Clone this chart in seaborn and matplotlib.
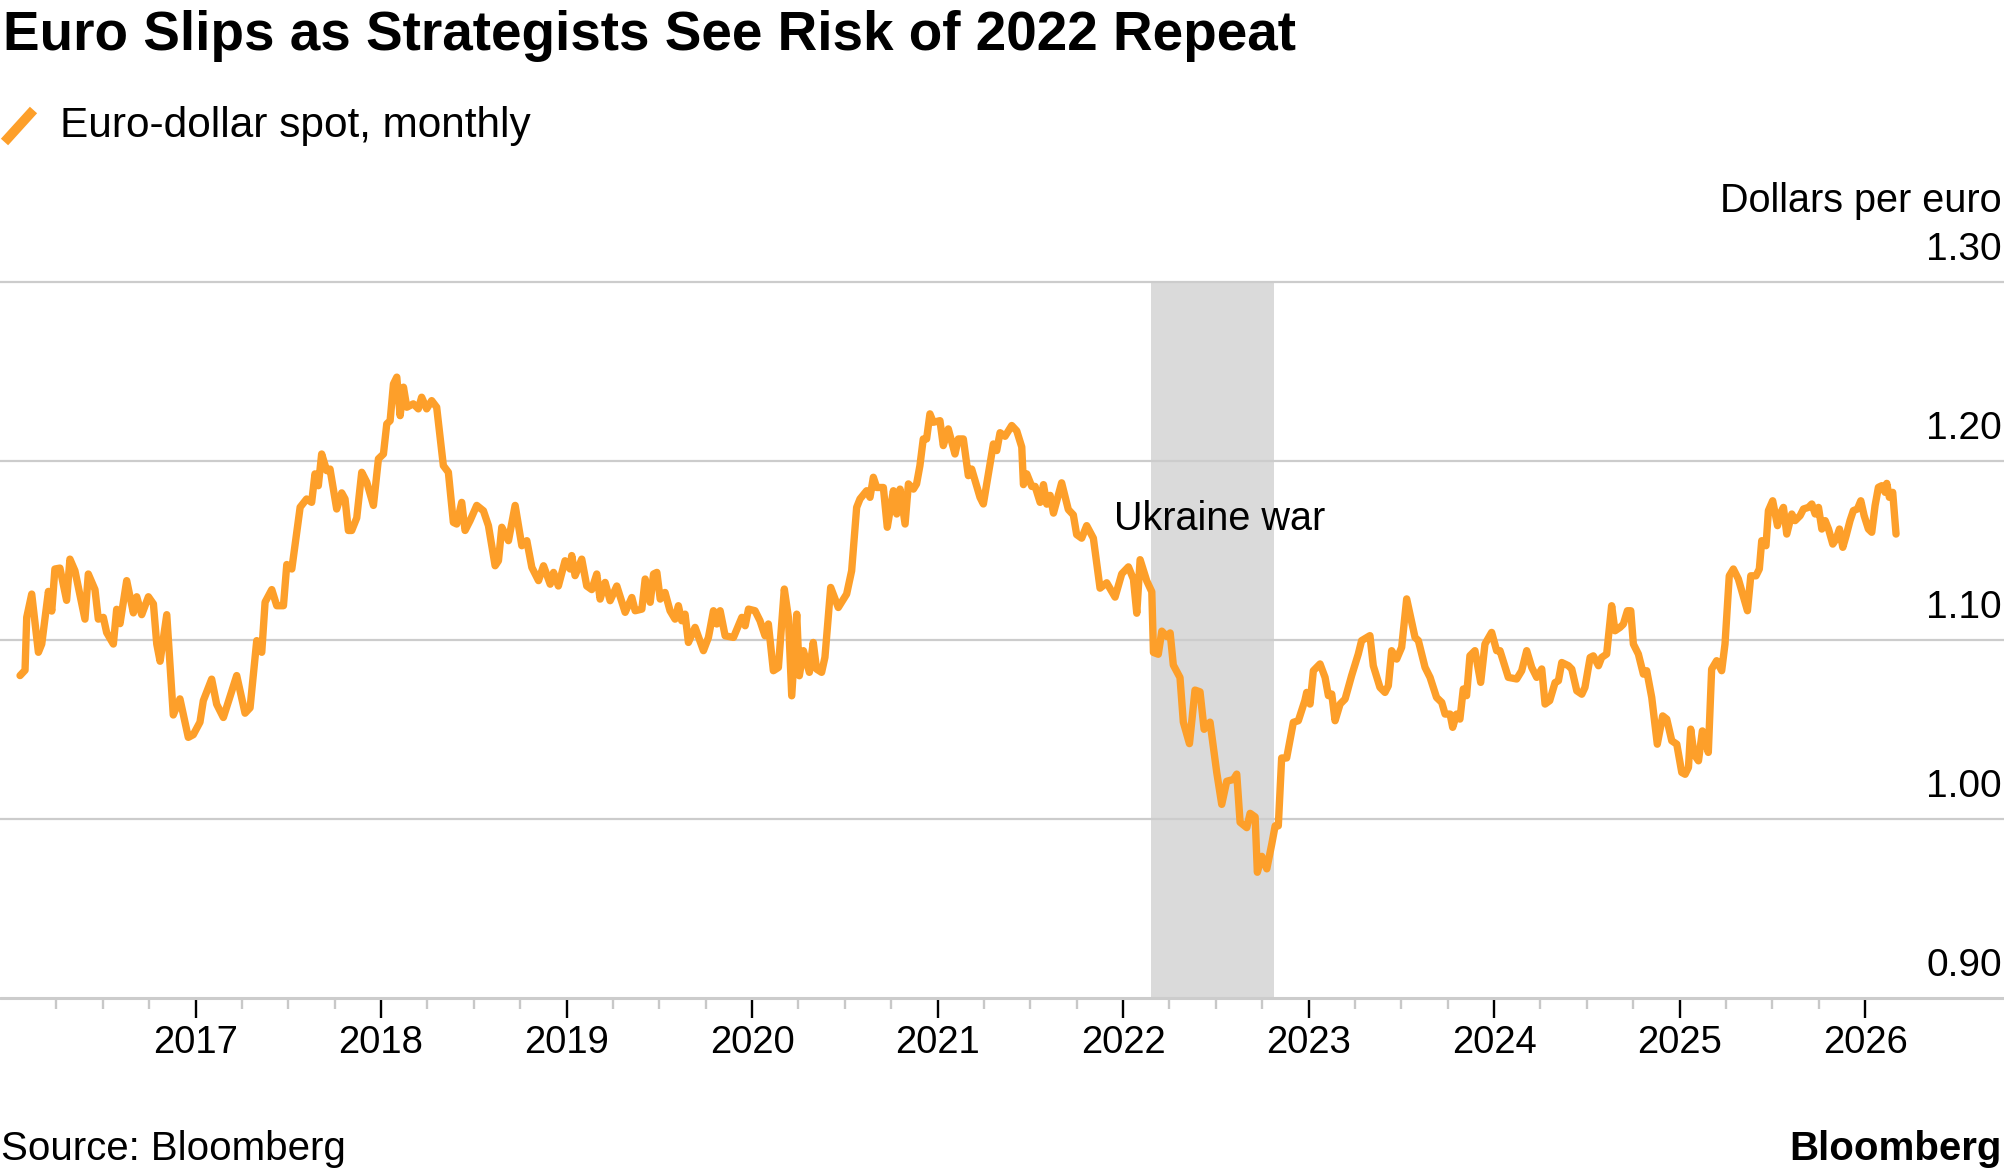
import matplotlib
matplotlib.use('Agg')
import matplotlib.pyplot as plt
import matplotlib.transforms as mtransforms
from matplotlib.lines import Line2D
import seaborn as sns
import pandas as pd

# EUR/USD readings, decimal year -> dollars per euro
dates = [
    2016.054, 2016.081, 2016.090, 2016.117, 2016.153, 2016.171, 2016.207, 2016.225, 2016.242, 2016.269,
    2016.305, 2016.323, 2016.350, 2016.404, 2016.422, 2016.458, 2016.476, 2016.503, 2016.521, 2016.557,
    2016.575, 2016.593, 2016.629, 2016.665, 2016.683, 2016.710, 2016.746, 2016.773, 2016.791, 2016.809,
    2016.845, 2016.880, 2016.916, 2016.961, 2016.988,
    2017.024, 2017.042, 2017.087, 2017.114, 2017.150, 2017.222, 2017.267, 2017.294, 2017.330, 2017.357,
    2017.375, 2017.411, 2017.438, 2017.474, 2017.492, 2017.519, 2017.564, 2017.599, 2017.626, 2017.644,
    2017.662, 2017.680, 2017.707, 2017.725, 2017.761, 2017.788, 2017.806, 2017.824, 2017.842, 2017.869,
    2017.896, 2017.923, 2017.959, 2017.986,
    2018.013, 2018.031, 2018.049, 2018.067, 2018.085, 2018.103, 2018.121, 2018.139, 2018.174, 2018.201,
    2018.219, 2018.246, 2018.273, 2018.300, 2018.336, 2018.363, 2018.390, 2018.408, 2018.435, 2018.453,
    2018.480, 2018.516, 2018.552, 2018.579, 2018.615, 2018.633, 2018.651, 2018.687, 2018.723, 2018.759,
    2018.786, 2018.813, 2018.849, 2018.876, 2018.912, 2018.930, 2018.956, 2018.992,
    2019.019, 2019.028, 2019.046, 2019.082, 2019.109, 2019.136, 2019.163, 2019.181, 2019.208, 2019.235,
    2019.271, 2019.316, 2019.352, 2019.370, 2019.406, 2019.424, 2019.451, 2019.469, 2019.487, 2019.505,
    2019.531, 2019.558, 2019.585, 2019.603, 2019.621, 2019.639, 2019.657, 2019.693, 2019.738, 2019.765,
    2019.792, 2019.810, 2019.828, 2019.855, 2019.900, 2019.945, 2019.963, 2019.981,
    2020.016, 2020.043, 2020.070, 2020.088, 2020.115, 2020.142, 2020.174, 2020.196, 2020.214, 2020.241,
    2020.255, 2020.277, 2020.309, 2020.330, 2020.348, 2020.375, 2020.393, 2020.424, 2020.465, 2020.510,
    2020.537, 2020.564, 2020.582, 2020.618, 2020.636, 2020.654, 2020.672, 2020.708, 2020.729, 2020.762,
    2020.780, 2020.798, 2020.825, 2020.843, 2020.870, 2020.887, 2020.905, 2020.923, 2020.941, 2020.959,
    2020.977,
    2021.013, 2021.031, 2021.058, 2021.094, 2021.112, 2021.139, 2021.166, 2021.184, 2021.229, 2021.247,
    2021.274, 2021.301, 2021.319, 2021.337, 2021.364, 2021.400, 2021.427, 2021.454, 2021.463, 2021.481,
    2021.508, 2021.526, 2021.553, 2021.571, 2021.589, 2021.607, 2021.625, 2021.669, 2021.705, 2021.732,
    2021.750, 2021.777, 2021.804, 2021.840, 2021.876, 2021.912, 2021.957, 2021.993,
    2022.029, 2022.056, 2022.074, 2022.092, 2022.128, 2022.155, 2022.164, 2022.190, 2022.209, 2022.236,
    2022.254, 2022.271, 2022.307, 2022.325, 2022.358, 2022.388, 2022.415, 2022.437, 2022.469, 2022.505,
    2022.532, 2022.559, 2022.595, 2022.613, 2022.631, 2022.667, 2022.685, 2022.712, 2022.724, 2022.748,
    2022.775, 2022.802, 2022.820, 2022.837, 2022.855, 2022.882, 2022.918, 2022.945, 2022.980, 2022.990,
    2023.008, 2023.026, 2023.062, 2023.089, 2023.107, 2023.125, 2023.143, 2023.170, 2023.197, 2023.232,
    2023.268, 2023.286, 2023.331, 2023.349, 2023.385, 2023.412, 2023.430, 2023.448, 2023.475, 2023.502,
    2023.529, 2023.574, 2023.592, 2023.628, 2023.655, 2023.690, 2023.718, 2023.736, 2023.763, 2023.777,
    2023.798, 2023.816, 2023.834, 2023.852, 2023.870, 2023.897, 2023.928, 2023.951, 2023.987,
    2024.014, 2024.032, 2024.077, 2024.122, 2024.149, 2024.176, 2024.203, 2024.230, 2024.257, 2024.275,
    2024.300, 2024.329, 2024.347, 2024.365, 2024.401, 2024.419, 2024.446, 2024.473, 2024.490, 2024.518,
    2024.535, 2024.563, 2024.580, 2024.607, 2024.634, 2024.652, 2024.679, 2024.697, 2024.719, 2024.737,
    2024.751, 2024.778, 2024.805, 2024.823, 2024.850, 2024.880, 2024.909, 2024.931, 2024.958, 2024.985,
    2025.012, 2025.030, 2025.048, 2025.060, 2025.078, 2025.102, 2025.123, 2025.155, 2025.173, 2025.200,
    2025.227, 2025.245, 2025.268, 2025.290, 2025.317, 2025.335, 2025.366, 2025.384, 2025.412, 2025.430,
    2025.443, 2025.466, 2025.479, 2025.502, 2025.528, 2025.542, 2025.560, 2025.578, 2025.605, 2025.623,
    2025.650, 2025.668, 2025.695, 2025.713, 2025.731, 2025.749, 2025.767, 2025.785, 2025.803, 2025.826,
    2025.844, 2025.862, 2025.880, 2025.898, 2025.919, 2025.937, 2025.959, 2025.977, 2025.995,
    2026.018, 2026.036, 2026.054, 2026.072, 2026.090, 2026.108, 2026.117, 2026.131, 2026.149, 2026.167,
]
eurusd = [
    1.080, 1.083, 1.1125, 1.1255, 1.093, 1.0976, 1.127, 1.116, 1.1395, 1.140,
    1.122, 1.145, 1.1385, 1.1115, 1.1367, 1.128, 1.1115, 1.1125, 1.104, 1.0976,
    1.117, 1.109, 1.133, 1.115, 1.124, 1.114, 1.124, 1.120, 1.0976, 1.088,
    1.114, 1.058, 1.067, 1.0455, 1.047,
    1.054, 1.066, 1.078, 1.064, 1.0566, 1.080, 1.059, 1.062, 1.0995, 1.093,
    1.121, 1.128, 1.119, 1.119, 1.142, 1.1395, 1.174, 1.1786, 1.1767, 1.1926,
    1.186, 1.2037, 1.1944, 1.1953, 1.173, 1.182, 1.1786, 1.161, 1.161, 1.168,
    1.1935, 1.188, 1.175, 1.201,
    1.2037, 1.2205, 1.2223, 1.2428, 1.2466, 1.2251, 1.241, 1.2298, 1.2317, 1.2289,
    1.2354, 1.2289, 1.2335, 1.2298, 1.1972, 1.1935, 1.1655, 1.1646, 1.1767, 1.161,
    1.1665, 1.175, 1.172, 1.1637, 1.1413, 1.1441, 1.1628, 1.1553, 1.175, 1.1525,
    1.1553, 1.1404, 1.133, 1.1413, 1.131, 1.1376, 1.130, 1.1441,
    1.1395, 1.147, 1.1358, 1.145, 1.130, 1.128, 1.1367, 1.1227, 1.132, 1.1218,
    1.130, 1.1153, 1.1236, 1.1162, 1.1171, 1.1339, 1.1209, 1.1367, 1.1376, 1.1227,
    1.1264, 1.1162, 1.1115, 1.119, 1.1106, 1.1143, 1.0985, 1.1069, 1.0939, 1.1013,
    1.1162, 1.1088, 1.1162, 1.1022, 1.1013, 1.1125, 1.1078, 1.1171,
    1.1162, 1.1106, 1.1022, 1.1088, 1.0827, 1.0845, 1.1283, 1.1125, 1.0687, 1.1143,
    1.0799, 1.0939, 1.0818, 1.0985, 1.0836, 1.0818, 1.0902, 1.1292, 1.118, 1.1255,
    1.1385, 1.1739, 1.1786, 1.1832, 1.1795, 1.1907, 1.185, 1.185, 1.1628, 1.1832,
    1.1702, 1.1841, 1.1646, 1.187, 1.1841, 1.187, 1.1972, 1.2121, 1.2121, 1.2261,
    1.2214,
    1.2223, 1.2084, 1.2177, 1.2037, 1.2121, 1.2121, 1.1916, 1.1953, 1.1795, 1.1758,
    1.1926, 1.2093, 1.2056, 1.2156, 1.2136, 1.2196, 1.2166, 1.2076, 1.1866, 1.1926,
    1.1856, 1.1856, 1.1767, 1.1866, 1.1757, 1.1806, 1.1707, 1.1876, 1.1727, 1.1697,
    1.1587, 1.1567, 1.1637, 1.1567, 1.1288, 1.1318, 1.1238, 1.1368,
    1.1407, 1.1338, 1.1148, 1.1447, 1.1328, 1.1268, 1.0929, 1.0919, 1.1048, 1.1018,
    1.1038, 1.0859, 1.0789, 1.0540, 1.0420, 1.0719, 1.0709, 1.0500, 1.0540, 1.0260,
    1.0081, 1.0210, 1.0220, 1.0250, 0.9981, 0.9951, 1.0031, 1.0011, 0.9702, 0.9791,
    0.9721, 0.9861, 0.9961, 0.9961, 1.0340, 1.0340, 1.0539, 1.0548, 1.0660, 1.0706,
    1.0641, 1.0827, 1.0865, 1.0790, 1.0688, 1.0697, 1.0548, 1.0641, 1.0669, 1.0799,
    1.0920, 1.0995, 1.1023, 1.0855, 1.0734, 1.0706, 1.0743, 1.0939, 1.0892, 1.0958,
    1.1228, 1.1013, 1.0995, 1.0846, 1.0790, 1.0678, 1.0650, 1.0585, 1.0585, 1.0511,
    1.0585, 1.0557, 1.0725, 1.0688, 1.0911, 1.0939, 1.0762, 1.0976, 1.1041,
    1.0939, 1.0939, 1.0790, 1.0781, 1.0827, 1.0939, 1.0846, 1.0790, 1.0837, 1.0641,
    1.0660, 1.0761, 1.0771, 1.0873, 1.0855, 1.0836, 1.0715, 1.0696, 1.0734, 1.0901,
    1.0910, 1.0855, 1.0901, 1.0920, 1.1190, 1.1050, 1.1069, 1.1087, 1.1162, 1.1162,
    1.0976, 1.0920, 1.0808, 1.0827, 1.0678, 1.0417, 1.0575, 1.0557, 1.0436, 1.0417,
    1.0259, 1.0249, 1.0287, 1.0501, 1.0361, 1.0324, 1.0491, 1.0371, 1.0836, 1.0883,
    1.0827, 1.0976, 1.1357, 1.1395, 1.1339, 1.1274, 1.1162, 1.1357, 1.1357, 1.1395,
    1.1553, 1.1525, 1.1721, 1.1776, 1.1637, 1.1702, 1.1739, 1.1590, 1.1702, 1.1665,
    1.1693, 1.1730, 1.1739, 1.1758, 1.1702, 1.1739, 1.1618, 1.1665, 1.1618, 1.1534,
    1.1562, 1.1618, 1.1516, 1.1581, 1.1665, 1.1721, 1.1730, 1.1776, 1.1693,
    1.1618, 1.1600, 1.1749, 1.1851, 1.1860, 1.1823, 1.1873, 1.1795, 1.1823, 1.1590,
]

war_start, war_end = 2022.152, 2022.816
war_label = "Ukraine war"
y_ticks = [0.90, 1.00, 1.10, 1.20, 1.30]
year_ticks = list(range(2017, 2027))
quarter_ticks = [y + q / 4 for y in range(2016, 2026) for q in (1, 2, 3)]

df = pd.DataFrame({"date": dates, "eurusd": eurusd})

sns.set_theme(style="white")
plt.rcParams["font.family"] = ["Liberation Sans", "DejaVu Sans"]
plt.rcParams["text.color"] = "black"

ORANGE = "#fd9f2a"
GRID = "#cccccc"
W, H = 2004, 1176

fig = plt.figure(figsize=(W / 100, H / 100), dpi=100)
ax = fig.add_axes([0, 1 - 998 / H, 1, (998 - 281.5) / H])
ax.set_xlim(2015.946, 2026.749)
ax.set_ylim(0.90, 1.30)

ax.axvspan(war_start, war_end, color="#dadada", lw=0, zorder=0)
for v in y_ticks:
    ax.axhline(v, color=GRID, lw=2.2 if v == y_ticks[0] else 1.6, zorder=1, clip_on=False)

sns.lineplot(data=df, x="date", y="eurusd", ax=ax, color=ORANGE, linewidth=5.3,
             estimator=None, sort=False, zorder=3)
ax.lines[-1].set_solid_joinstyle("round")
ax.lines[-1].set_solid_capstyle("round")

ax.text(2021.95, 1.161, war_label, fontsize=28.5, ha="left", va="baseline", zorder=4)

for s in ax.spines.values():
    s.set_visible(False)
ax.set_yticks([])
ax.set_xticks(year_ticks)
ax.set_xticklabels([str(y) for y in year_ticks])
ax.set_xticks(quarter_ticks, minor=True)
ax.tick_params(axis="x", which="major", bottom=True, length=14.4, width=1.7,
               color="black", pad=5, labelsize=27.5, labelcolor="black")
ax.tick_params(axis="x", which="minor", bottom=True, length=8, width=1.7, color="#c8c8c8")
ax.set_xlabel("")
ax.set_ylabel("")

# y labels sit above their gridlines at the right edge
trans = mtransforms.offset_copy(ax.get_yaxis_transform(), fig=fig, x=0, y=21.5, units="dots")
for v in y_ticks:
    ax.text(0.999, v, f"{v:.2f}", transform=trans, ha="right", va="baseline", fontsize=28)

fig.text(0.999, 1 - 212 / H, "Dollars per euro", ha="right", va="baseline", fontsize=28.5)

fig.text(0.0015, 1 - 50 / H, "Euro Slips as Strategists See Risk of 2022 Repeat",
         fontsize=39.5, weight="bold", ha="left", va="baseline")
fig.add_artist(Line2D([4.5 / W, 33.5 / W], [1 - 142 / H, 1 - 110 / H], transform=fig.transFigure,
                      color=ORANGE, lw=7, solid_capstyle="butt"))
fig.text(60 / W, 1 - 137 / H, "Euro-dollar spot, monthly", fontsize=30.5, va="baseline")

fig.text(0.0005, 1 - 1160 / H, "Source: Bloomberg", fontsize=29, va="baseline")
fig.text(0.999, 1 - 1160 / H, "Bloomberg", fontsize=29, weight="bold", ha="right", va="baseline")

fig.savefig("out.png", dpi=100)
